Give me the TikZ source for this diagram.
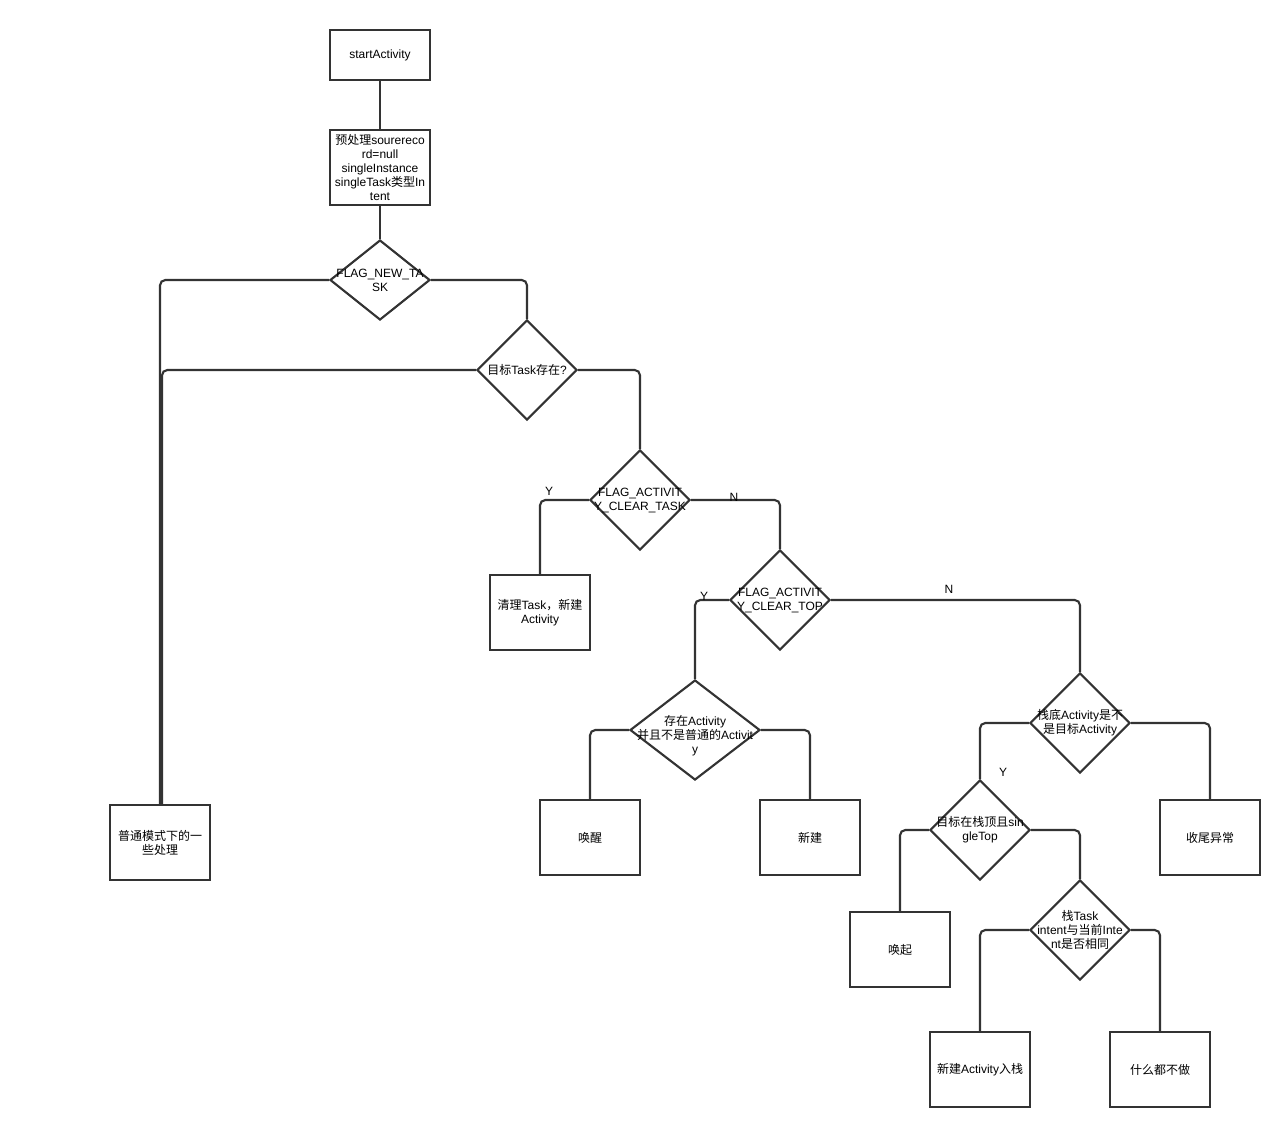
\documentclass[tikz,border=0pt]{standalone}
\usepackage{fontspec}
\setmainfont{Liberation Sans}
\newfontfamily\cjk{Noto Sans CJK SC}
\newcommand{\zh}[1]{{\cjk #1}}
\usetikzlibrary{shapes.geometric}

\tikzset{every picture/.style={line width=0.75pt}}
\tikzset{
  lbl/.style={inner sep=0pt, align=center, font=\fontsize{9}{10.5}\selectfont},
  proc/.style={draw={rgb, 255:red, 51; green, 51; blue, 51}, line width=1.6pt, rectangle, minimum width=75pt, minimum height=56.25pt, inner sep=0pt, lbl},
  dec/.style={draw={rgb, 255:red, 51; green, 51; blue, 51}, line width=1.6pt, diamond, minimum width=75pt, minimum height=75pt, inner sep=0pt},
  conn/.style={draw={rgb, 255:red, 51; green, 51; blue, 51}, line width=1.6pt, rounded corners=4pt},
}

\begin{document}
\begin{tikzpicture}[x=0.75pt,y=0.75pt,yscale=-1,xscale=1]
\useasboundingbox (0,0) rectangle (1280,1127);

%Shape: Rectangle
\node [proc, minimum height=37.5pt] (start) at (380,55) {startActivity};
\node [proc] (pre) at (380,167.5) {\zh{预处理}sourereco\\rd=null\\singleInstance\\singleTask\zh{类型}In\\tent};
\node [proc] (normal) at (160,842.5) {\zh{普通模式下的一}\\\zh{些处理}};
\node [proc] (clear) at (540,612.5) {\zh{清理}Task\zh{，新建}\\Activity};
\node [proc] (wake) at (590,837.5) {\zh{唤醒}};
\node [proc] (create) at (810,837.5) {\zh{新建}};
\node [proc] (finish) at (1210,837.5) {\zh{收尾异常}};
\node [proc] (call) at (900,949.5) {\zh{唤起}};
\node [proc] (push) at (980,1069.5) {\zh{新建}Activity\zh{入栈}};
\node [proc] (nothing) at (1160,1069.5) {\zh{什么都不做}};

%Shape: Diamond
\node [dec, minimum height=60pt] (newtask) at (380,280) {};
\node [dec] (exist) at (527,370) {};
\node [dec] (cleartask) at (640,500) {};
\node [dec] (cleartop) at (780,600) {};
\node [dec, minimum width=97.5pt] (hasact) at (695,730) {};
\node [dec] (bottom) at (1080,723) {};
\node [dec] (top) at (980,830) {};
\node [dec] (same) at (1080,930) {};

% Text Node
\node [lbl] at (newtask) {FLAG\_NEW\_TA\\SK};
\node [lbl] at (exist) {\zh{目标}Task\zh{存在}?};
\node [lbl] at (cleartask) {FLAG\_ACTIVIT\\Y\_CLEAR\_TASK};
\node [lbl] at (cleartop) {FLAG\_ACTIVIT\\Y\_CLEAR\_TOP};
\node [lbl] at (695,736) {\zh{存在}Activity\\\zh{并且不是普通的}Activit\\y};
\node [lbl] at (bottom) {\zh{栈底}Activity\zh{是不}\\\zh{是目标}Activity};
\node [lbl] at (top) {\zh{目标在栈顶且}sin\\gleTop};
\node [lbl] at (same) {\zh{栈}Task\\intent\zh{与当前}Inte\\nt\zh{是否相同}};

%Straight Lines
\draw [conn] (start) -- (pre);
\draw [conn] (pre) -- (newtask);
\draw [conn] (newtask.west) -| (normal.north);
\draw [conn] (newtask.east) -| (exist.north);
\draw [conn] (exist.west) -| ([xshift=1.5pt]normal.north);
\draw [conn] (exist.east) -| (cleartask.north);
\draw [conn] (cleartask.west) -| (clear.north);
\draw [conn] (cleartask.east) -| (cleartop.north);
\draw [conn] (cleartop.west) -| (hasact.north);
\draw [conn] (cleartop.east) -| (bottom.north);
\draw [conn] (hasact.west) -| (wake.north);
\draw [conn] (hasact.east) -| (create.north);
\draw [conn] (bottom.west) -| (top.north);
\draw [conn] (bottom.east) -| (finish.north);
\draw [conn] (top.west) -| (call.north);
\draw [conn] (top.east) -| (same.north);
\draw [conn] (same.west) -| (push.north);
\draw [conn] (same.east) -| (nothing.north);

% Text Node
\node [lbl] (y1) at (549,491) {Y};
\node [lbl] (n1) at (734,497) {N};
\node [lbl] (y2) at (704,596) {Y};
\node [lbl] (n2) at (949,589) {N};
\node [lbl] (y3) at (1003,772) {Y};

\end{tikzpicture}
\end{document}
